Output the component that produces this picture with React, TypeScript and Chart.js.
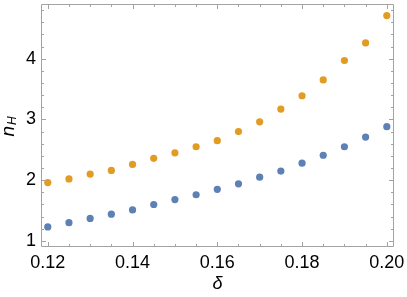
import React, { useEffect, useRef } from "react";
import { Chart, registerables } from "chart.js";

Chart.register(...registerables);

const deltaValues = [0.12, 0.125, 0.13, 0.135, 0.14, 0.145, 0.15, 0.155, 0.16, 0.165, 0.17, 0.175, 0.18, 0.185, 0.19, 0.195, 0.2];
const orangeSeries = [1.96, 2.02, 2.1, 2.16, 2.26, 2.36, 2.45, 2.55, 2.65, 2.8, 2.96, 3.17, 3.39, 3.65, 3.97, 4.26, 4.71];
const blueSeries = [1.23, 1.3, 1.37, 1.44, 1.51, 1.6, 1.68, 1.76, 1.85, 1.94, 2.05, 2.15, 2.28, 2.41, 2.55, 2.71, 2.88];
const xMajorTicks = [0.12, 0.14, 0.16, 0.18, 0.2];
const yMajorTicks = [1, 2, 3, 4];
const xMinorStep = 0.005;
const yMinorStep = 0.2;
const xLabel = "δ";
const yLabelMain = "n";
const yLabelSub = "H";

const FRAME = "#a3a3a3";
const FONT = "'Liberation Sans', Arial, sans-serif";

const isMajor = (v: number, majors: number[]) => majors.some((m) => Math.abs(m - v) < 1e-9);

const buildTicks = (min: number, max: number, step: number) => {
  const out: { value: number }[] = [];
  const start = Math.ceil(min / step - 1e-9);
  const end = Math.floor(max / step + 1e-9);
  for (let k = start; k <= end; k++) out.push({ value: Math.round(k * step * 1e6) / 1e6 });
  return out;
};

const framePlugin = {
  id: "mmaFrame",
  afterDraw(chart: any) {
    const { ctx, chartArea } = chart;
    const { left, right, top, bottom } = chartArea;
    const xs = chart.scales.x;
    const ys = chart.scales.y;
    ctx.save();
    ctx.strokeStyle = FRAME;
    ctx.lineWidth = 1;
    ctx.beginPath();
    ctx.rect(left + 0.5, top + 0.5, right - left - 1, bottom - top - 1);
    ctx.stroke();
    ctx.beginPath();
    xs.ticks.forEach((t: any) => {
      const px = Math.round(xs.getPixelForValue(t.value)) + 0.5;
      const len = isMajor(t.value, xMajorTicks) ? 5 : 3;
      ctx.moveTo(px, bottom);
      ctx.lineTo(px, bottom - len);
      ctx.moveTo(px, top);
      ctx.lineTo(px, top + len);
    });
    ys.ticks.forEach((t: any) => {
      const py = Math.round(ys.getPixelForValue(t.value)) + 0.5;
      const len = isMajor(t.value, yMajorTicks) ? 5 : 3;
      ctx.moveTo(left, py);
      ctx.lineTo(left + len, py);
      ctx.moveTo(right, py);
      ctx.lineTo(right - len, py);
    });
    ctx.stroke();

    ctx.fillStyle = "#000";
    ctx.textBaseline = "alphabetic";
    ctx.font = `italic 18px ${FONT}`;
    const xw = ctx.measureText(xLabel).width;
    ctx.fillText(xLabel, (left + right) / 2 - xw / 2, 289);

    ctx.translate(14, (top + bottom) / 2 + 1);
    ctx.rotate(-Math.PI / 2);
    ctx.font = `italic 19px ${FONT}`;
    const nw = ctx.measureText(yLabelMain).width;
    ctx.font = `italic 12px ${FONT}`;
    const hw = ctx.measureText(yLabelSub).width;
    const total = nw + hw + 1;
    ctx.font = `italic 19px ${FONT}`;
    ctx.fillText(yLabelMain, -total / 2, 0);
    ctx.font = `italic 12px ${FONT}`;
    ctx.fillText(yLabelSub, -total / 2 + nw + 1, 2);
    ctx.restore();
  },
};

export default function App() {
  const ref = useRef<HTMLCanvasElement | null>(null);
  useEffect(() => {
    if (!ref.current) return;
    const chart = new Chart(ref.current, {
      type: "scatter",
      data: {
        datasets: [
          {
            data: deltaValues.map((x, i) => ({ x, y: orangeSeries[i] })),
            backgroundColor: "#e19c24",
            borderWidth: 0,
            pointRadius: 3.6,
          },
          {
            data: deltaValues.map((x, i) => ({ x, y: blueSeries[i] })),
            backgroundColor: "#5e81b5",
            borderWidth: 0,
            pointRadius: 3.6,
          },
        ],
      },
      options: {
        responsive: false,
        animation: false,
        devicePixelRatio: 1,
        layout: { padding: { top: 0, right: 13, left: 0, bottom: 0 } },
        plugins: { legend: { display: false }, tooltip: { enabled: false } },
        scales: {
          x: {
            type: "linear",
            min: 0.1184,
            max: 0.2017,
            grid: { display: false, drawTicks: false },
            border: { display: false },
            afterBuildTicks: (s: any) => {
              s.ticks = buildTicks(s.min, s.max, xMinorStep);
            },
            ticks: {
              autoSkip: false,
              maxRotation: 0,
              padding: 5,
              color: "#000",
              font: { family: FONT, size: 18 },
              callback: (v: any) => (isMajor(Number(v), xMajorTicks) ? Number(v).toFixed(2) : ""),
            },
            afterFit: (s: any) => {
              s.height = 50;
              s.paddingLeft = 0;
              s.paddingRight = 0;
            },
          },
          y: {
            type: "linear",
            min: 0.9,
            max: 4.9,
            grid: { display: false, drawTicks: false },
            border: { display: false },
            afterBuildTicks: (s: any) => {
              s.ticks = buildTicks(s.min, s.max, yMinorStep);
            },
            ticks: {
              autoSkip: false,
              padding: 5,
              color: "#000",
              font: { family: FONT, size: 18 },
              callback: (v: any) => (isMajor(Number(v), yMajorTicks) ? String(Math.round(Number(v))) : ""),
            },
            afterFit: (s: any) => {
              s.width = 41;
              s.paddingTop = 0;
              s.paddingBottom = 0;
            },
          },
        },
      },
      plugins: [framePlugin],
    });
    return () => chart.destroy();
  }, []);
  return (
    <div style={{ position: "absolute", left: 0, top: 0, width: 407, height: 297, background: "#fff" }}>
      <canvas ref={ref} width={407} height={297} style={{ width: 407, height: 297 }} />
    </div>
  );
}
